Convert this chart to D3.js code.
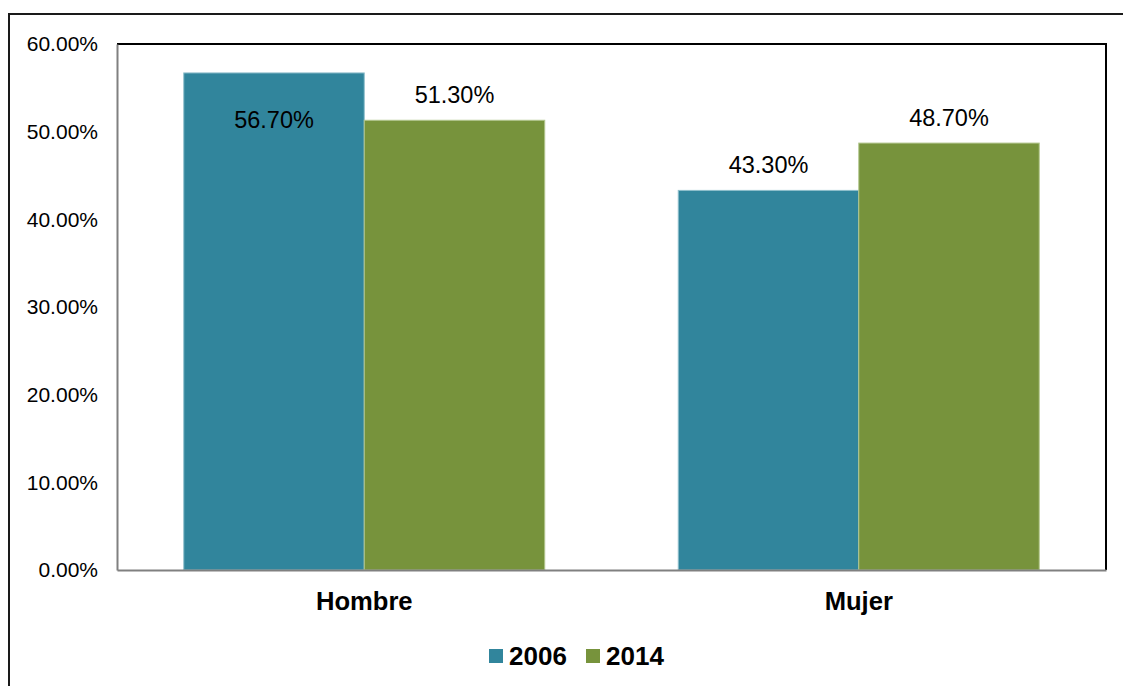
<!DOCTYPE html>
<html>
<head>
<meta charset="utf-8">
<script src="https://cdn.jsdelivr.net/npm/d3@7"></script>
<style>
  html, body { margin: 0; padding: 0; background: #fff; }
  svg { display: block; }
</style>
</head>
<body>
<script>
// Datos
const categories = ["Hombre", "Mujer"];
const years = ["2006", "2014"];
const values2006 = [0.567, 0.433];
const values2014 = [0.513, 0.487];
const yTicks = [0, 0.1, 0.2, 0.3, 0.4, 0.5, 0.6];
const colors = ["#31859c", "#77933c"];

const width = 1123, height = 686;
const M = {top: 44, right: 17, bottom: 116, left: 117};
const innerW = width - M.left - M.right;
const innerH = height - M.top - M.bottom;

const rows = categories.map((c, i) => ({cat: c, vals: [values2006[i], values2014[i]]}));

const svg = d3.select("body").append("svg")
  .attr("width", width).attr("height", height)
  .style("font-family", "Arial, 'Liberation Sans', sans-serif");

// marco exterior
svg.append("rect")
  .attr("x", 9).attr("y", 14).attr("width", 1130).attr("height", 700)
  .attr("fill", "none").attr("stroke", "#1a1a1a").attr("stroke-width", 2);

const g = svg.append("g").attr("transform", `translate(${M.left},${M.top})`);

const x = d3.scaleBand().domain(categories).range([0, innerW])
  .paddingInner(0.27).paddingOuter(0.135);
const xs = d3.scaleBand().domain(years).range([0, x.bandwidth()]).padding(0);
const y = d3.scaleLinear().domain([0, 0.6]).range([innerH, 0]);

// borde superior y derecho del área de trazado
g.append("path")
  .attr("d", `M0,0H${innerW}V${innerH}`)
  .attr("fill", "none").attr("stroke", "#000").attr("stroke-width", 2);

// barras
const grp = g.selectAll("g.cat").data(rows).join("g")
  .attr("class", "cat")
  .attr("transform", d => `translate(${x(d.cat)},0)`);

grp.selectAll("rect").data(d => d.vals.map((v, i) => ({v, i}))).join("rect")
  .attr("x", d => xs(years[d.i]))
  .attr("y", d => y(d.v))
  .attr("width", xs.bandwidth())
  .attr("height", d => innerH - y(d.v))
  .attr("fill", d => colors[d.i])
  .attr("stroke", d => d.i === 0 ? "#8fbfcc" : "#b3c78f")
  .attr("stroke-width", 1);

// etiquetas de datos
grp.selectAll("text.lbl").data(d => d.vals.map((v, i) => ({v, i}))).join("text")
  .attr("class", "lbl")
  .attr("x", d => xs(years[d.i]) + xs.bandwidth() / 2)
  .attr("y", d => y(d.v) - 17 < 40 ? y(d.v) + 55 : y(d.v) - 17)
  .attr("text-anchor", "middle")
  .attr("font-size", 23.5)
  .attr("fill", "#000")
  .text(d => d3.format(".2%")(d.v));

// eje Y
const yAxis = g.append("g")
  .call(d3.axisLeft(y).tickValues(yTicks).tickSize(0).tickPadding(19).tickFormat(d3.format(".2%")));
yAxis.select(".domain").attr("stroke", "#808080").attr("stroke-width", 2);
yAxis.selectAll(".tick text").attr("font-size", 21).attr("fill", "#000")
  .attr("font-family", "Arial, 'Liberation Sans', sans-serif");

// eje X
const xAxis = g.append("g").attr("transform", `translate(0,${innerH})`)
  .call(d3.axisBottom(x).tickSize(0).tickPadding(22));
xAxis.select(".domain").attr("stroke", "#808080").attr("stroke-width", 2);
xAxis.selectAll(".tick text").attr("font-size", 25.6).attr("font-weight", "bold").attr("fill", "#000")
  .attr("font-family", "Arial, 'Liberation Sans', sans-serif");

// leyenda
const legendX = [489, 586];
const leg = svg.append("g").selectAll("g").data(years).join("g")
  .attr("transform", (d, i) => `translate(${legendX[i]},649)`);
leg.append("rect").attr("width", 14).attr("height", 14).attr("fill", (d, i) => colors[i]);
leg.append("text").attr("x", 20).attr("y", 16)
  .attr("font-size", 26).attr("font-weight", "bold").attr("fill", "#000")
  .text(d => d);
</script>
</body>
</html>
